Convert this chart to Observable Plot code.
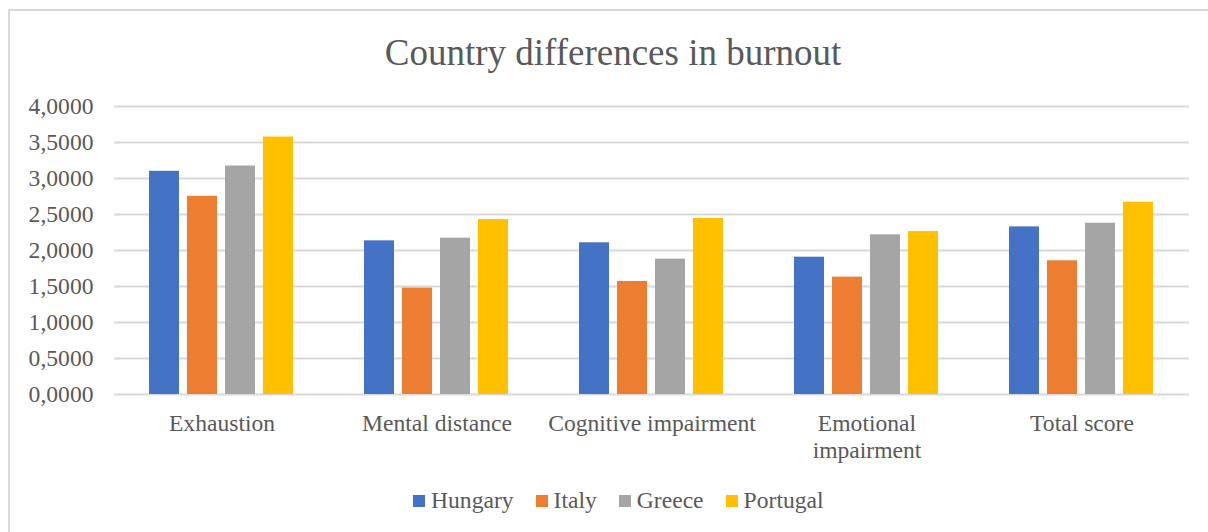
<!DOCTYPE html>
<html>
<head>
<meta charset="utf-8">
<script src="https://cdn.jsdelivr.net/npm/d3@7"></script>
<script src="https://cdn.jsdelivr.net/npm/@observablehq/plot@0.6"></script>
<style>
  html, body { margin: 0; padding: 0; background: #fff; overflow: hidden; }
  #chart {
    position: relative; width: 1208px; height: 532px; overflow: hidden;
    font-family: "Liberation Serif", "Times New Roman", serif; color: #595959;
  }
  #frame {
    position: absolute; left: 8px; top: 9px; right: -10px; bottom: -10px;
    border-top: 2px solid #d9d9d9; border-left: 2px solid #d9d9d9;
  }
  #title {
    position: absolute; left: 0; width: 1226px; top: 34px;
    text-align: center; font-size: 37px; line-height: 37px;
    font-family: "Liberation Serif", "Times New Roman", serif;
  }
  #plot { position: absolute; left: 0; top: 90px; }
  #legend {
    position: absolute; left: 413px; top: 487px;
    display: flex; align-items: center; font-size: 23.6px;
    font-family: "Liberation Serif", "Times New Roman", serif; color: #595959;
  }
  #legend .item { display: flex; align-items: center; margin-right: 22px; }
  #legend .sw { width: 12px; height: 12px; margin-right: 6px; }
  #legend span { font-family: "Liberation Serif", "Times New Roman", serif; }
</style>
</head>
<body>
<div id="chart">
  <div id="frame"></div>
  <div id="title">Country differences in burnout</div>
  <div id="plot"></div>
  <div id="legend"></div>
</div>
<script>
// Burnout dimensions and their axis labels
const categories = ["Exhaustion", "Mental distance", "Cognitive impairment", "Emotional impairment", "Total score"];
const categoryLabels = ["Exhaustion", "Mental distance", "Cognitive impairment", "Emotional\nimpairment", "Total score"];

// Countries and their series colours
const countries = ["Hungary", "Italy", "Greece", "Portugal"];
const colors = ["#4472c4", "#ed7d31", "#a5a5a5", "#ffc000"];

// Mean scores per dimension
const hungary  = [3.100, 2.134, 2.107, 1.907, 2.328];
const italy    = [2.753, 1.478, 1.570, 1.630, 1.857];
const greece   = [3.174, 2.171, 1.880, 2.218, 2.379];
const portugal = [3.576, 2.430, 2.444, 2.263, 2.670];

const yTicks = [0, 0.5, 1, 1.5, 2, 2.5, 3, 3.5, 4];

const series = [hungary, italy, greece, portugal];
const data = [];
categories.forEach((cat, i) => {
  countries.forEach((c, j) => data.push({category: cat, country: c, value: series[j][i]}));
});

const fmt = v => d3.format(".4f")(v).replace(".", ",");
const labelOf = Object.fromEntries(categories.map((c, i) => [c, categoryLabels[i]]));

const chart = Plot.plot({
  width: 1208,
  height: 380,
  marginLeft: 113,
  marginRight: 19,
  marginTop: 16,
  marginBottom: 76,
  style: {
    fontFamily: '"Liberation Serif", "Times New Roman", serif',
    fontSize: "23.6px",
    color: "#595959",
    background: "transparent",
    overflow: "visible"
  },
  fx: {domain: categories, padding: 0, axis: null},
  x: {domain: countries, paddingInner: 0.205, paddingOuter: 0.867, axis: null},
  y: {domain: [0, 4], axis: null},
  color: {domain: countries, range: colors},
  marks: [
    Plot.ruleY(yTicks, {stroke: "#d9d9d9", strokeWidth: 2}),
    Plot.barY(data, {fx: "category", x: "country", y: "value", fill: "country"}),
    Plot.axisY({ticks: yTicks, tickFormat: fmt, tickSize: 0, tickPadding: 21, label: null}),
    Plot.axisFx({anchor: "bottom", tickSize: 0, tickPadding: 17, tickFormat: d => labelOf[d], lineHeight: 1.14, label: null})
  ]
});
document.getElementById("plot").appendChild(chart);

// Legend
const legend = d3.select("#legend");
countries.forEach((c, i) => {
  const item = legend.append("div").attr("class", "item");
  item.append("div").attr("class", "sw").style("background", colors[i]);
  item.append("span").text(c);
});
</script>
</body>
</html>
